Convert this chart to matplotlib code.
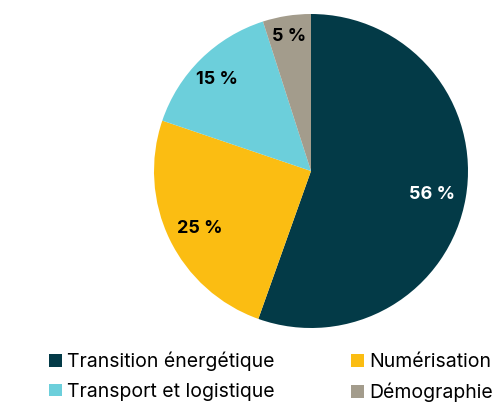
import matplotlib.pyplot as plt
import numpy as np
from matplotlib.patches import Patch

plt.rcParams['font.family'] = ['Inter', 'DejaVu Sans']

labels = ['Transition énergétique', 'Numérisation', 'Transport et logistique', 'Démographie']
values = [56, 25, 15, 5]
colors = ['#033a47', '#fbbd12', '#6ccfdb', '#a39c8c']
text_colors = ['white', 'black', 'black', 'black']
label_dist = [0.78, 0.79, 0.85, 0.89]

fig = plt.figure(figsize=(4.95, 4.04), dpi=100)
ax = fig.add_axes([154 / 495, 76 / 404, 314 / 495, 314 / 404])

wedges, _ = ax.pie(values, colors=colors, startangle=90, counterclock=False,
                   wedgeprops=dict(linewidth=0))

# place the percent labels by hand, distance differs a bit per slice
for w, v, d, c in zip(wedges, values, label_dist, text_colors):
    ang = np.deg2rad((w.theta1 + w.theta2) / 2)
    ax.text(d * np.cos(ang), d * np.sin(ang) - 0.02, f'{v} %', ha='center', va='center',
            fontsize=13, fontweight='bold', color=c)

ax.set_aspect('equal')
ax.set_xlim(-1, 1)
ax.set_ylim(-1, 1)

# legend order: row by row
order = [0, 2, 1, 3]
handles = [Patch(facecolor=colors[i], edgecolor='none') for i in order]
fig.legend(handles, [labels[i] for i in order], ncol=2, loc='center left',
           bbox_to_anchor=(49 / 495, 27 / 404), frameon=False, fontsize=14,
           borderaxespad=0, borderpad=0,
           handlelength=0.65, handleheight=0.65, handletextpad=0.3,
           columnspacing=3.9, labelspacing=0.6)

fig.savefig('out.png', dpi=100)
